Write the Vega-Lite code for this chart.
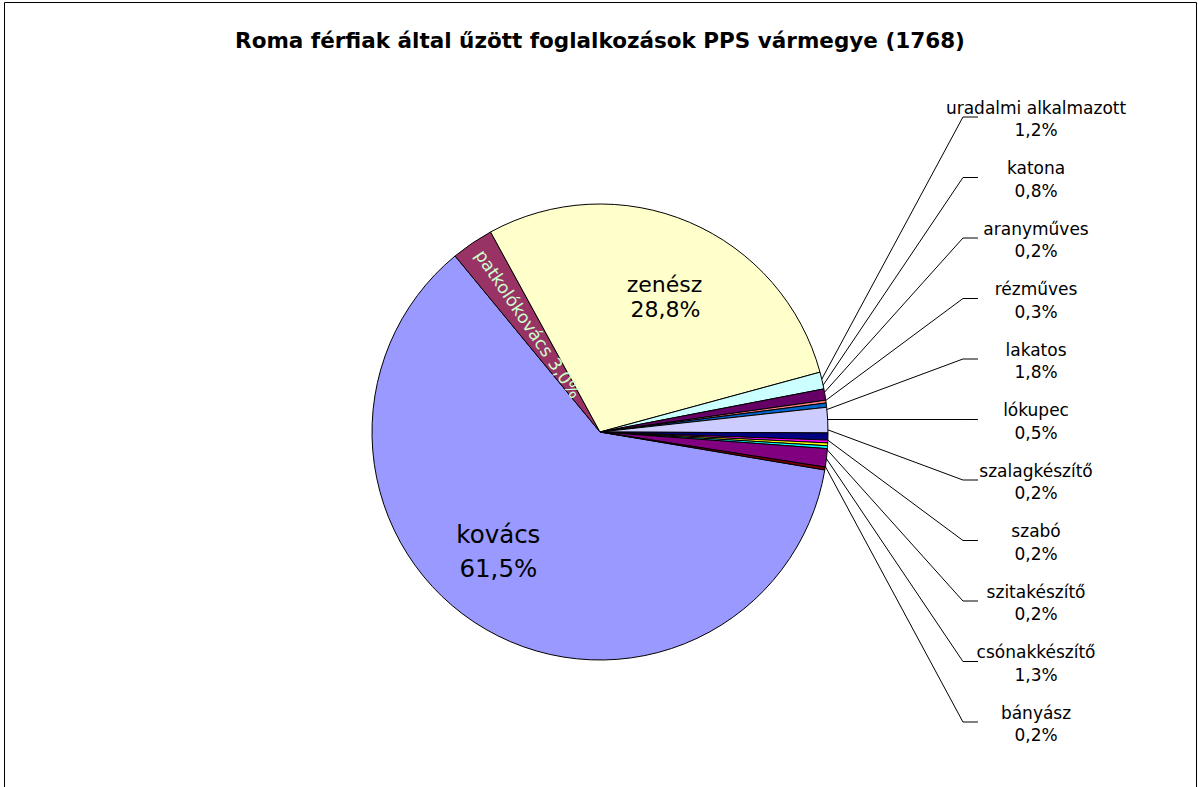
{
  "$schema": "https://vega.github.io/schema/vega-lite/v6.json",
  "width": 1192,
  "height": 860,
  "padding": {"left": 4, "top": 2, "right": 2, "bottom": 0},
  "background": "white",
  "config": {
    "view": {"stroke": "black", "strokeWidth": 1},
    "locale": {"number": {"decimal": ",", "thousands": " ", "grouping": [3], "currency": ["", ""]}}
  },
  "title": {
    "text": "Roma férfiak által űzött foglalkozások  PPS vármegye (1768)",
    "font": "DejaVu Sans", "fontSize": 21.5, "fontWeight": "bold", "color": "black",
    "anchor": "middle", "baseline": "alphabetic", "offset": -67
  },
  "data": {"values": [
    {"category": "kovács", "share": 0.615},
    {"category": "patkolókovács", "share": 0.030},
    {"category": "zenész", "share": 0.288},
    {"category": "uradalmi alkalmazott", "share": 0.012},
    {"category": "katona", "share": 0.008},
    {"category": "aranyműves", "share": 0.002},
    {"category": "rézműves", "share": 0.003},
    {"category": "lakatos", "share": 0.018},
    {"category": "lókupec", "share": 0.005},
    {"category": "szalagkészítő", "share": 0.002},
    {"category": "szabó", "share": 0.002},
    {"category": "szitakészítő", "share": 0.002},
    {"category": "csónakkészítő", "share": 0.013},
    {"category": "bányász", "share": 0.002}
  ]},
  "transform": [{"window": [{"op": "row_number", "as": "n"}]}],
  "layer": [
    {
      "transform": [{"filter": "datum.share < 0.02"}],
      "mark": {"type": "rule", "color": "black", "strokeWidth": 1},
      "encoding": {
        "x": {"datum": 80.45, "type": "quantitative", "scale": {"domain": [0, 100]}, "axis": null},
        "x2": {"datum": 66.78},
        "y": {"field": "category", "type": "ordinal", "axis": null,
              "scale": {"type": "point", "padding": 0, "range": [115, 720],
                        "domain": ["uradalmi alkalmazott", "katona", "aranyműves", "rézműves", "lakatos", "lókupec", "szalagkészítő", "szabó", "szitakészítő", "csónakkészítő", "bányász"]}},
        "y2": {"datum": "lókupec", "type": "ordinal"}
      }
    },
    {
      "transform": [{"filter": "datum.share < 0.02"}],
      "mark": {"type": "rule", "color": "black", "strokeWidth": 1},
      "encoding": {
        "x": {"datum": 80.45, "type": "quantitative", "scale": {"domain": [0, 100]}, "axis": null},
        "x2": {"datum": 81.71},
        "y": {"field": "category", "type": "ordinal", "axis": null}
      }
    },
    {
      "mark": {"type": "arc", "outerRadius": 228, "stroke": "black", "strokeWidth": 1},
      "encoding": {
        "theta": {"field": "share", "type": "quantitative", "stack": true, "scale": {"range": [1.738, 8.0212]}},
        "order": {"field": "n", "type": "quantitative"},
        "color": {"field": "category", "type": "nominal", "legend": null,
                  "scale": {"domain": ["kovács", "patkolókovács", "zenész", "uradalmi alkalmazott", "katona", "aranyműves", "rézműves", "lakatos", "lókupec", "szalagkészítő", "szabó", "szitakészítő", "csónakkészítő", "bányász"],
                            "range": ["#9999FF", "#993366", "#FFFFCC", "#CCFFFF", "#660066", "#FF8080", "#0066CC", "#CCCCFF", "#000080", "#FF00FF", "#FFFF00", "#00FFFF", "#800080", "#800000"]}}
      }
    },
    {
      "mark": {"type": "text", "radius": 155, "font": "DejaVu Sans", "fontSize": 24.5, "color": "black", "align": "center", "baseline": "alphabetic", "dx": -24, "dy": -23},
      "encoding": {
        "theta": {"field": "share", "type": "quantitative", "stack": true, "scale": {"range": [1.738, 8.0212]}},
        "order": {"field": "n", "type": "quantitative"},
        "detail": {"field": "category", "type": "nominal"},
        "text": {"condition": {"test": "datum.category === 'kovács'", "field": "category", "type": "nominal"}, "value": ""}
      }
    },
    {
      "mark": {"type": "text", "radius": 155, "font": "DejaVu Sans", "fontSize": 24.5, "color": "black", "align": "center", "baseline": "alphabetic", "dx": -24, "dy": 11},
      "encoding": {
        "theta": {"field": "share", "type": "quantitative", "stack": true, "scale": {"range": [1.738, 8.0212]}},
        "order": {"field": "n", "type": "quantitative"},
        "detail": {"field": "category", "type": "nominal"},
        "text": {"condition": {"test": "datum.category === 'kovács'", "field": "share", "type": "quantitative", "format": ".1%"}, "value": ""}
      }
    },
    {
      "mark": {"type": "text", "radius": 152, "font": "DejaVu Sans", "fontSize": 22, "color": "black", "align": "center", "baseline": "alphabetic", "dx": 5, "dy": 0},
      "encoding": {
        "theta": {"field": "share", "type": "quantitative", "stack": true, "scale": {"range": [1.738, 8.0212]}},
        "order": {"field": "n", "type": "quantitative"},
        "detail": {"field": "category", "type": "nominal"},
        "text": {"condition": {"test": "datum.category === 'zenész'", "field": "category", "type": "nominal"}, "value": ""}
      }
    },
    {
      "mark": {"type": "text", "radius": 152, "font": "DejaVu Sans", "fontSize": 22, "color": "black", "align": "center", "baseline": "alphabetic", "dx": 6, "dy": 25},
      "encoding": {
        "theta": {"field": "share", "type": "quantitative", "stack": true, "scale": {"range": [1.738, 8.0212]}},
        "order": {"field": "n", "type": "quantitative"},
        "detail": {"field": "category", "type": "nominal"},
        "text": {"condition": {"test": "datum.category === 'zenész'", "field": "share", "type": "quantitative", "format": ".1%"}, "value": ""}
      }
    },
    {
      "mark": {"type": "text", "radius": 132, "font": "DejaVu Sans", "fontSize": 17.5, "color": "#CCFFCC", "align": "right", "baseline": "middle", "angle": 56, "dx": 39.6},
      "encoding": {
        "theta": {"field": "share", "type": "quantitative", "stack": true, "scale": {"range": [1.738, 8.0212]}},
        "order": {"field": "n", "type": "quantitative"},
        "detail": {"field": "category", "type": "nominal"},
        "text": {"condition": {"test": "datum.category === 'patkolókovács'", "field": "category", "type": "nominal"}, "value": ""}
      }
    },
    {
      "mark": {"type": "text", "radius": 132, "font": "DejaVu Sans", "fontSize": 17.5, "color": "#CCFFCC", "align": "left", "baseline": "middle", "angle": 56, "dx": 45.2},
      "encoding": {
        "theta": {"field": "share", "type": "quantitative", "stack": true, "scale": {"range": [1.738, 8.0212]}},
        "order": {"field": "n", "type": "quantitative"},
        "detail": {"field": "category", "type": "nominal"},
        "text": {"condition": {"test": "datum.category === 'patkolókovács'", "field": "share", "type": "quantitative", "format": ".1%"}, "value": ""}
      }
    },
    {
      "transform": [{"filter": "datum.share < 0.02"}],
      "mark": {"type": "text", "font": "DejaVu Sans", "fontSize": 17, "color": "black", "align": "center", "baseline": "alphabetic", "dy": -3.5},
      "encoding": {
        "x": {"datum": 86.58, "type": "quantitative", "scale": {"domain": [0, 100]}, "axis": null},
        "y": {"field": "category", "type": "ordinal", "axis": null},
        "text": {"field": "category", "type": "nominal"}
      }
    },
    {
      "transform": [{"filter": "datum.share < 0.02"}],
      "mark": {"type": "text", "font": "DejaVu Sans", "fontSize": 17, "color": "black", "align": "center", "baseline": "alphabetic", "dy": 19},
      "encoding": {
        "x": {"datum": 86.58, "type": "quantitative", "scale": {"domain": [0, 100]}, "axis": null},
        "y": {"field": "category", "type": "ordinal", "axis": null},
        "text": {"field": "share", "type": "quantitative", "format": ".1%"}
      }
    }
  ]
}
